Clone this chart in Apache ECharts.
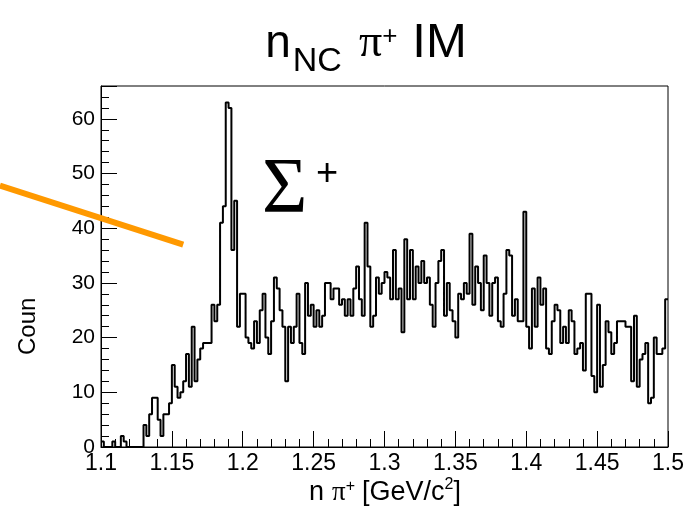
<!DOCTYPE html>
<html><head><meta charset="utf-8">
<script src="https://cdn.jsdelivr.net/npm/echarts@6/dist/echarts.min.js"></script>
<style>html,body{margin:0;padding:0;background:#fff}#c{width:700px;height:517px}</style>
</head><body><div id="c"></div>
<script>
// histogram binning
const binStart = 1.1;
const binWidth = 0.002;
// counts per bin (200 bins, 1.1 - 1.5 GeV/c^2)
const counts = [
  1,0,0,0,1,0,0,2,1,0,   0,0,0,0,0,4,2,6,9,9,
  5,2,6,6,8,15,11,9,10,12, 17,11,22,12,16,18,19,19,19,26,
  23,26,41,44,63,62,36,45,22,28, 28,20,19,18,23,19,25,28,20,17,
  23,31,29,25,22,12,22,19,22,28, 19,17,30,24,26,22,25,22,24,30,
  30,27,29,29,26,27,24,27,24,29, 33,27,24,41,33,22,24,31,28,30,
  32,31,27,36,27,29,21,38,27,36, 27,33,30,34,30,31,26,22,30,34,
  36,24,30,25,23,20,28,27,30,28, 39,26,33,30,25,35,30,24,30,31,
  23,22,28,36,35,24,27,23,23,43, 22,18,29,22,31,26,29,18,17,23,
  26,25,19,22,19,25,23,17,18,19, 14,28,28,13,10,26,11,15,23,21,
  17,19,23,23,23,22,22,12,24,11, 16,17,19,8,9,20,17,17,18,27
];
const xMin = 1.1, xMax = 1.5, xStep = 0.05;
const yMin = 0, yMax = 66, yStep = 10;
// annotation (orange line, in data coordinates) and Sigma label anchor (left, baseline)
const annotLine = [[1.0287, 47.8], [1.158, 37.0]];
const sigmaAnchor = [1.2136, 42.6];

const edges = counts.map((v, i) => [binStart + i * binWidth, v]);
edges.push([binStart + counts.length * binWidth, counts[counts.length - 1]]);

const chart = echarts.init(document.getElementById('c'), null, {renderer: 'canvas'});
const SANS = '"Liberation Sans", Arial, Helvetica, sans-serif';
const SERIF = '"Liberation Serif", "Times New Roman", serif';

chart.setOption({
  animation: false,
  backgroundColor: '#fff',
  grid: {left: 101, right: 32, top: 86, bottom: 70, show: true, borderColor: '#000', borderWidth: 1, backgroundColor: 'transparent'},
  xAxis: {
    type: 'value', min: xMin, max: xMax, interval: xStep,
    axisLine: {show: true, onZero: false, lineStyle: {color: '#000', width: 1}},
    axisTick: {show: true, inside: true, length: 16, lineStyle: {color: '#000', width: 1}},
    minorTick: {show: true, splitNumber: 5, length: 8, lineStyle: {color: '#000', width: 1}},
    axisLabel: {color: '#000', fontSize: 23, fontFamily: SANS, margin: 5,
      formatter: v => (Math.round(v * 100) / 100).toString()},
    splitLine: {show: false}, minorSplitLine: {show: false}
  },
  yAxis: {
    type: 'value', min: yMin, max: yMax, interval: yStep,
    axisLine: {show: true, onZero: false, lineStyle: {color: '#000', width: 1}},
    axisTick: {show: true, inside: true, length: 16, lineStyle: {color: '#000', width: 1}},
    minorTick: {show: true, splitNumber: 5, length: 8, lineStyle: {color: '#000', width: 1}},
    axisLabel: {color: '#000', fontSize: 21, fontFamily: SANS, margin: 6,
      formatter: v => (v % 10 === 0 ? String(v) : '')},
    splitLine: {show: false}, minorSplitLine: {show: false}
  },
  series: [
    {
      type: 'line', data: edges, step: 'end', symbol: 'none',
      lineStyle: {color: '#000', width: 2}, z: 3
    }
  ]
});

// text layout helper: pieces placed along a baseline, centred on cx
const mctx = document.createElement('canvas').getContext('2d');
function measure(t, size, fam) { mctx.font = size + 'px ' + fam; return mctx.measureText(t).width; }
function rowText(cx, baseline, pieces) {
  const widths = pieces.map(p => measure(p.t, p.size, p.fam) + (p.gap || 0));
  const total = widths.reduce((a, b) => a + b, 0);
  let x = cx - total / 2;
  return pieces.map((p, i) => {
    const el = {type: 'text', x: x, y: baseline + (p.dy || 0) - 0.8 * p.size, silent: true, z: 10,
      style: {text: p.t, fontSize: p.size, fontFamily: p.fam, fill: '#000', verticalAlign: 'top'}};
    x += widths[i];
    return el;
  });
}

const p0 = chart.convertToPixel({gridIndex: 0}, annotLine[0]);
const p1 = chart.convertToPixel({gridIndex: 0}, annotLine[1]);
const s = chart.convertToPixel({gridIndex: 0}, sigmaAnchor);

const titlePieces = [
  {t: 'n', size: 46, fam: SANS, gap: 2},
  {t: 'NC', size: 34, fam: SANS, dy: 14, gap: 17},
  {t: 'π', size: 46, fam: SERIF},
  {t: '+', size: 26, fam: SANS, dy: -13, gap: 15},
  {t: 'IM', size: 49, fam: SANS}
];
const xTitlePieces = [
  {t: 'n', size: 27, fam: SANS, gap: 8},
  {t: 'π', size: 27, fam: SERIF},
  {t: '+', size: 16, fam: SANS, dy: -10, gap: 7},
  {t: '[GeV/c', size: 27, fam: SANS},
  {t: '2', size: 16, fam: SANS, dy: -12},
  {t: ']', size: 27, fam: SANS}
];

chart.setOption({
  graphic: [].concat(
    rowText(366, 58, titlePieces),
    rowText(385, 501, xTitlePieces),
    [
      // y-axis title (cut off in the original)
      {type: 'text', x: 16, y: 355, rotation: Math.PI / 2, silent: true,
        style: {text: 'Coun', fontSize: 24, fontFamily: SANS, fill: '#000', verticalAlign: 'top'}},
      // orange annotation line
      {type: 'line', silent: true, z: 20,
        shape: {x1: p0[0], y1: p0[1], x2: p1[0], y2: p1[1]},
        style: {stroke: '#FF9900', lineWidth: 6, lineCap: 'butt'}},
      // Sigma+ label
      {type: 'text', x: s[0], y: s[1] - 0.8 * 78, silent: true,
        style: {text: 'Σ', fontSize: 78, fontFamily: SERIF, fill: '#000', verticalAlign: 'top'}},
      {type: 'text', x: s[0] + 54, y: s[1] - 58, silent: true,
        style: {text: '+', fontSize: 38, fontFamily: SANS, fill: '#000', verticalAlign: 'top'}}
    ]
  )
});
</script></body></html>
